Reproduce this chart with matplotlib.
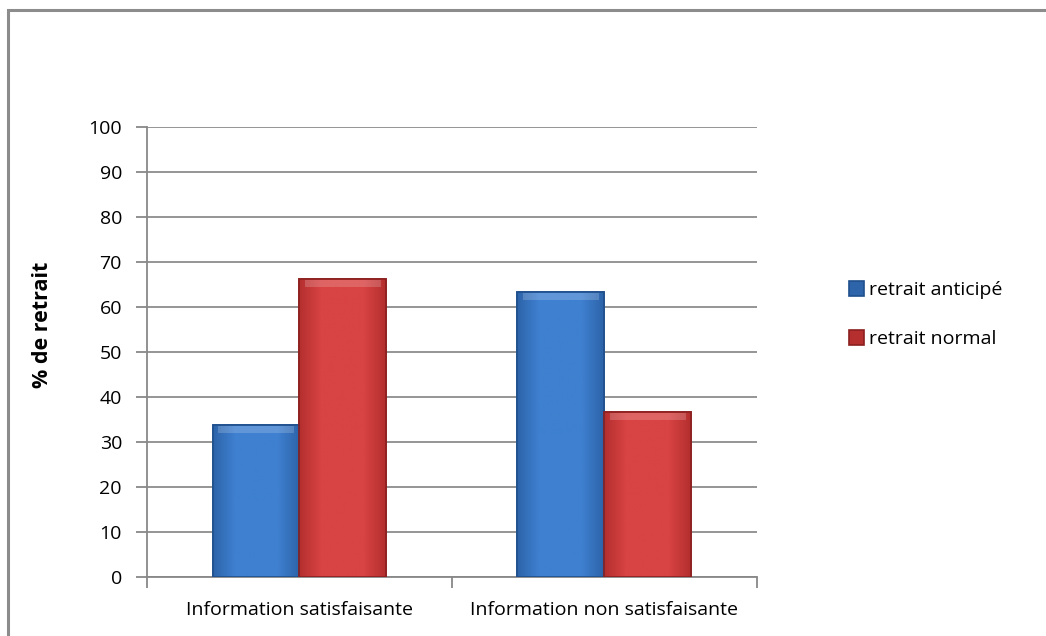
import numpy as np
import matplotlib
matplotlib.use("Agg")
import matplotlib.pyplot as plt
from matplotlib.colors import LinearSegmentedColormap
from matplotlib.patches import Rectangle

categories = ["Information satisfaisante", "Information non satisfaisante"]
series_names = ["retrait anticipé", "retrait normal"]
anticipe = [33.8, 63.4]
normal = [66.2, 36.6]
y_ticks = list(range(0, 101, 10))

plt.rcParams['font.family'] = ['Open Sans', 'DejaVu Sans']

fig = plt.figure(figsize=(10.46, 6.36), dpi=100)
ax = fig.add_axes([0.1405, 0.0928, 0.583, 0.7075])

# chart area border
fig.patches.append(Rectangle((8 / 1046, -0.1), 1.2, 1 - 10 / 636 + 0.1,
                             transform=fig.transFigure, fill=False,
                             edgecolor="#8c8c8c", linewidth=2.2))

colors = {
    "retrait anticipé": ("#2d64aa", "#3f80d0", "#1f4f8c"),
    "retrait normal": ("#b52f2f", "#d84343", "#8c1f1f"),
}

x = np.arange(len(categories))
w = 0.285
bars_a = ax.bar(x - w / 2, anticipe, w, color=colors[series_names[0]][0],
                edgecolor=colors[series_names[0]][2], linewidth=1.2,
                label=series_names[0], zorder=3)
bars_n = ax.bar(x + w / 2, normal, w, color=colors[series_names[1]][0],
                edgecolor=colors[series_names[1]][2], linewidth=1.2,
                label=series_names[1], zorder=3)


def shade(bars, name):
    # soft gradient to mimic the bevel look
    dark, light, edge = colors[name]
    cmap = LinearSegmentedColormap.from_list(name, [dark, light, light, light, dark])
    grad = np.linspace(0, 1, 64).reshape(1, -1)
    for b in bars:
        x0, y0 = b.get_x(), b.get_y()
        x1, y1 = x0 + b.get_width(), y0 + b.get_height()
        im = ax.imshow(grad, extent=[x0, x1, y0, y1], aspect="auto",
                       cmap=cmap, zorder=3.5, origin="lower")
        im.set_clip_path(b)
        # top bevel
        ax.bar(b.get_x() + b.get_width() / 2, 1.6, b.get_width() * 0.88,
               bottom=y1 - 1.8, color="white", alpha=0.18, zorder=3.6, linewidth=0)
        ax.bar(b.get_x() + b.get_width() / 2, b.get_height(), b.get_width(),
               fill=False, edgecolor=edge, linewidth=1.2, zorder=3.8)


shade(bars_a, series_names[0])
shade(bars_n, series_names[1])

ax.set_xlim(-0.5, len(categories) - 0.5)
ax.set_ylim(0, 100)
ax.set_yticks(y_ticks)
ax.set_xticks(x)
ax.set_xticklabels(categories)
ax.set_xticks(np.arange(-0.5, len(categories), 1), minor=True)
ax.tick_params(axis="x", which="major", length=0, pad=17, labelsize=14)
ax.tick_params(axis="x", which="minor", length=8, width=1.3, color="#888888",
               direction="out")
ax.tick_params(axis="y", length=8, width=1.3, color="#888888", pad=10,
               labelsize=14)

ax.grid(axis="y", color="#8c8c8c", linewidth=1.3, zorder=0)
ax.set_axisbelow(True)
for s in ["top", "right"]:
    ax.spines[s].set_visible(False)
for s in ["left", "bottom"]:
    ax.spines[s].set_color("#888888")
    ax.spines[s].set_linewidth(1.3)

ax.set_ylabel("% de retrait", fontsize=15.5, fontweight="bold")
ax.yaxis.set_label_coords(-0.154, 0.56)

leg = ax.legend(handles=[bars_a, bars_n], loc="center left",
                bbox_to_anchor=(0.795, 0.505), bbox_transform=fig.transFigure,
                frameon=False, fontsize=14, handlelength=0.75,
                handleheight=0.75, handletextpad=0.3, labelspacing=1.6)

fig.savefig("out.png", dpi=100, facecolor="white")
